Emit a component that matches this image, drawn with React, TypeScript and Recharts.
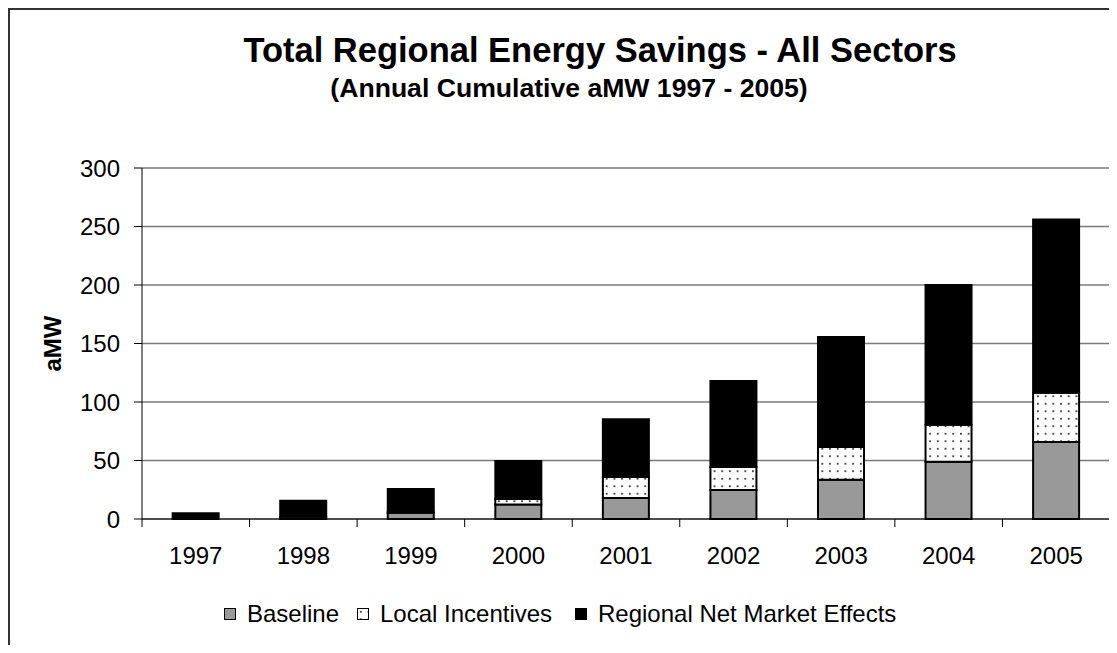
import React from 'react';
import { BarChart, Bar, XAxis, YAxis, CartesianGrid } from 'recharts';

const years = ['1997', '1998', '1999', '2000', '2001', '2002', '2003', '2004', '2005'];
const baseline = [0, 2, 5.4, 12.5, 18, 24.8, 33.6, 49, 65.8];
const localIncentives = [0, 0, 0.3, 4.5, 17.9, 19.6, 27.9, 31.6, 42.2];
const regionalEffects = [5, 13.6, 20, 32.6, 49.3, 73.6, 94, 119.4, 148];
const yTicks = [0, 50, 100, 150, 200, 250, 300];

const data = years.map((year, i) => ({
  year,
  baseline: baseline[i],
  local: localIncentives[i],
  regional: regionalEffects[i],
}));

const FONT = '"Liberation Sans", Arial, sans-serif';
const CHART_W = 1107;
const CHART_H = 635;
const MARGIN = { top: 158, right: 7, left: 32, bottom: 66 };
const Y_AXIS_W = 100;
const PLOT_W = CHART_W - MARGIN.left - MARGIN.right - Y_AXIS_W;
const BAND = PLOT_W / years.length;

const XTick = (props: any) => {
  const { x, y, payload, index } = props;
  const axisY = y - 28;
  return (
    <g>
      <line x1={x - BAND / 2} x2={x - BAND / 2} y1={axisY} y2={axisY + 8} stroke="#000" strokeWidth={1} />
      {index === years.length - 1 && (
        <line x1={x + BAND / 2} x2={x + BAND / 2} y1={axisY} y2={axisY + 8} stroke="#000" strokeWidth={1} />
      )}
      <text x={x} y={y} dy="0.71em" textAnchor="middle" fontFamily={FONT} fontSize={24} fill="#000">
        {payload.value}
      </text>
    </g>
  );
};

const YLabel = (props: any) => {
  const { viewBox } = props;
  const cx = viewBox.x + 10;
  const cy = viewBox.y + viewBox.height / 2;
  return (
    <text
      x={cx}
      y={cy}
      transform={`rotate(-90, ${cx}, ${cy})`}
      textAnchor="middle"
      dominantBaseline="central"
      fontFamily={FONT}
      fontSize={24}
      fontWeight="bold"
      fill="#000"
    >
      aMW
    </text>
  );
};

const legendItems = [
  { label: 'Baseline', fill: '#999999', left: 214 },
  { label: 'Local Incentives', fill: 'url(#dots)', left: 347 },
  { label: 'Regional Net Market Effects', fill: '#000', left: 565 },
];

export default function App() {
  return (
    <div
      style={{
        position: 'relative',
        width: 1107,
        height: 635,
        borderTop: '2px solid #333',
        borderLeft: '2px solid #333',
        background: '#fff',
      }}
    >
      <svg width={0} height={0} style={{ position: 'absolute' }}>
        <defs>
          <pattern id="dots" patternUnits="userSpaceOnUse" width={7.7} height={7.5}>
            <rect width={7.7} height={7.5} fill="#fff" />
            <circle cx={3.8} cy={3.7} r={1} fill="#1a1a1a" />
          </pattern>
        </defs>
      </svg>

      <svg width={CHART_W} height={150} style={{ position: 'absolute', left: 0, top: 0 }}>
        <text x={590} y={52} textAnchor="middle" fontFamily={FONT} fontSize={34.5} fontWeight="bold" fill="#000">
          Total Regional Energy Savings - All Sectors
        </text>
        <text x={559} y={87} textAnchor="middle" fontFamily={FONT} fontSize={26.6} fontWeight="bold" fill="#000">
          (Annual Cumulative aMW 1997 - 2005)
        </text>
      </svg>

      <div style={{ position: 'absolute', left: 0, top: 0 }}>
        <BarChart width={CHART_W} height={CHART_H} data={data} margin={MARGIN} barCategoryGap="28.5%">
          <CartesianGrid vertical={false} stroke="#7a7a7a" strokeWidth={1.5} />
          <XAxis
            dataKey="year"
            height={60}
            tickSize={8}
            tickMargin={20}
            tickLine={false}
            axisLine={{ stroke: '#000', strokeWidth: 1 }}
            tick={<XTick />}
            interval={0}
          />
          <YAxis
            width={Y_AXIS_W}
            domain={[0, 300]}
            ticks={yTicks}
            tickSize={8}
            tickMargin={14}
            axisLine={{ stroke: '#000', strokeWidth: 1 }}
            tickLine={{ stroke: '#000', strokeWidth: 1 }}
            tick={{ fontFamily: FONT, fontSize: 24, fill: '#000' }}
            label={<YLabel />}
          />
          <Bar dataKey="baseline" stackId="a" fill="#999999" stroke="#000" strokeWidth={2} isAnimationActive={false} />
          <Bar dataKey="local" stackId="a" fill="url(#dots)" stroke="#000" strokeWidth={2} isAnimationActive={false} />
          <Bar dataKey="regional" stackId="a" fill="#000" stroke="#000" strokeWidth={2} isAnimationActive={false} />
        </BarChart>
      </div>

      {legendItems.map((item) => (
        <div
          key={item.label}
          style={{
            position: 'absolute',
            left: item.left,
            top: 592,
            display: 'flex',
            alignItems: 'center',
            fontFamily: FONT,
            fontSize: 24,
            lineHeight: '24px',
            color: '#000',
            whiteSpace: 'nowrap',
          }}
        >
          <svg width={12} height={12} style={{ marginRight: 11 }}>
            <rect x={0.5} y={0.5} width={11} height={11} fill={item.fill} stroke="#000" strokeWidth={1} />
          </svg>
          {item.label}
        </div>
      ))}
    </div>
  );
}
